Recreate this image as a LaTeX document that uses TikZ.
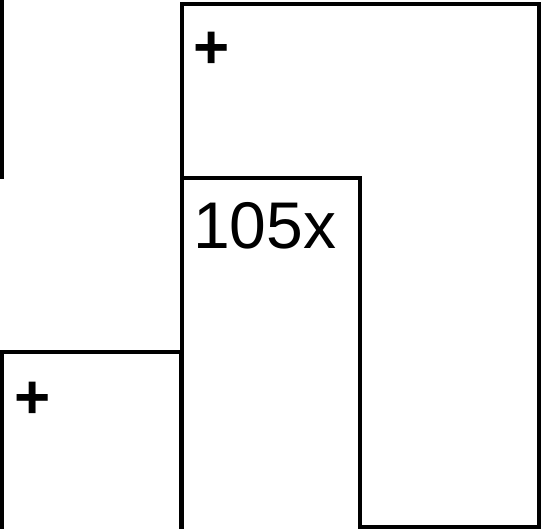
\documentclass[tikz,border=0pt]{standalone}
\usepackage{fontspec}
\setmainfont{Liberation Sans}
\begin{document}
\begin{tikzpicture}[x=1pt,y=-1pt,
  box/.style={draw=black,line width=4pt,fill=white},
  lbl/.style={inner sep=0pt,font=\fontsize{66}{66}\selectfont},
  plus/.style={inner sep=0pt,font=\bfseries\fontsize{62}{62}\selectfont}]
\useasboundingbox (0,0) rectangle (541,529);
\clip (0,0) rectangle (541,529);
\draw[line width=4pt] (2,-5) -- (2,179);
\draw[box] (181.5,4.5) rectangle (539,527);
\draw[box] (181.5,178) rectangle (360,560);
\draw[box] (2,352) rectangle (181,560);
\node[plus,anchor=center] (p1) at (212,50.5) {+};
\node[plus,anchor=center] (p2) at (33,400) {+};
\node[lbl,anchor=base west] (t) at (193,248.5) {105x};
\end{tikzpicture}
\end{document}
